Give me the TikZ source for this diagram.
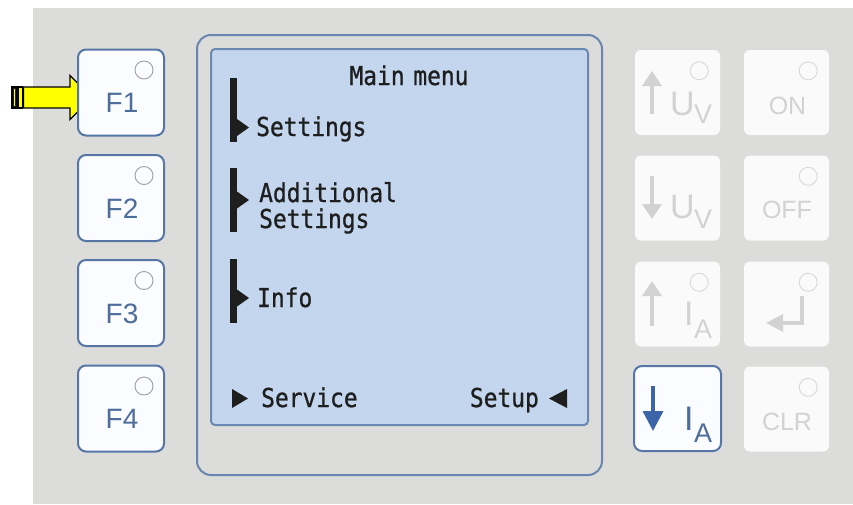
\documentclass[tikz,border=0pt]{standalone}
\usepackage{fontspec}
\setmainfont{Liberation Sans}
\newfontfamily\lcdfont[FakeStretch=0.88,FakeBold=0.9]{DejaVu Sans Mono}
\usetikzlibrary{arrows.meta,calc}

\definecolor{panel}{HTML}{DCDCDA}
\definecolor{dimfill}{HTML}{FAFAFA}
\definecolor{dimink}{HTML}{D2D2D2}
\definecolor{dimled}{HTML}{D8D8D8}
\definecolor{keyedge}{HTML}{5676A6}
\definecolor{keyfill}{HTML}{FBFCFF}
\definecolor{keyink}{HTML}{4D6D9B}
\definecolor{ledgray}{HTML}{A0A0A0}
\definecolor{lcdfill}{HTML}{C3D6EE}
\definecolor{lcdedge}{HTML}{6A88B2}
\definecolor{frameedge}{HTML}{6A86AE}
\definecolor{lcdink}{HTML}{1E1E1E}
\definecolor{activeblue}{HTML}{3B65A8}
\definecolor{pointer}{HTML}{FFFF00}

\begin{document}
\begin{tikzpicture}[x=1pt,y=-1pt,
  fkey/.style={draw=keyedge,line width=2pt,fill=keyfill,rounded corners=8pt,
    minimum width=86pt,minimum height=86pt,inner sep=0pt},
  dimkey/.style={fill=dimfill,rounded corners=6pt,
    minimum width=85pt,minimum height=85pt,inner sep=0pt},
  fnum/.style={text=keyink,font=\fontsize{28}{28}\selectfont,inner sep=0pt},
  dimword/.style={text=dimink,font=\fontsize{25}{25}\selectfont,inner sep=0pt},
  bigsym/.style={font=\fontsize{34}{34}\selectfont,inner sep=0pt,anchor=base west},
  subsym/.style={font=\fontsize{27}{27}\selectfont,inner sep=0pt,anchor=base west},
  ledring/.style={draw=ledgray,line width=0.9pt,fill=keyfill},
  dimring/.style={draw=dimled,line width=0.9pt},
  lcdtext/.style={text=lcdink,font=\lcdfont\fontsize{26}{26}\selectfont,inner sep=0pt,anchor=base west},
  lcdmark/.style={fill=lcdink},
  dimarrow/.style={draw=dimink,line width=3.4pt,-{Triangle[width=19pt,length=15pt]}},
]
\useasboundingbox (0,0) rectangle (853,504);

% front panel
\fill[panel] (33,8) rectangle (853,504);

% pointer at F1
\draw[fill=pointer,line width=1.4pt,line join=miter]
  (23.5,87) -- (70,87) -- (70,75.5) -- (92,97.5) -- (70,119.5) -- (70,108) -- (23.5,108) -- cycle;
\draw[fill=pointer,line width=1.4pt] (18,87) rectangle (22.5,108);
\draw[fill=lcdink,line width=1.4pt] (12,87) rectangle (16.5,108);
\draw[pointer,line width=0.8pt] (14.2,89) -- (14.2,106);

% function keys
\foreach \k/\y in {1/92.5,2/198,3/303,4/408.5}{
  \node[fkey] (f\k) at (121,\y) {};
  \node[fnum] (f\k t) at ($(f\k.center)+(1,10.5)$) {F\k};
  \draw[ledring] ($(f\k.north east)+(-21,21.5)$) circle[radius=9pt];
}

% display frame and LCD
\draw[frameedge,line width=2pt,rounded corners=14pt] (197,35) rectangle (602,475);
\draw[lcdedge,fill=lcdfill,line width=2pt,rounded corners=4pt] (211,49) rectangle (588,425);

\node[lcdtext,anchor=base] (title) at (409,85) {Main\hspace{-5pt} menu};

% menu entries with selection marks
\fill[lcdmark] (230,78) rectangle (237,142);
\fill[lcdmark] (237,119) -- (249,127.5) -- (237,136) -- cycle;
\node[lcdtext] (m1) at (256,136) {Settings};

\fill[lcdmark] (230,168) rectangle (237,232);
\fill[lcdmark] (237,191.5) -- (249,200) -- (237,208.5) -- cycle;
\node[lcdtext] (m2a) at (259,202) {Additional};
\node[lcdtext] (m2b) at (259,228) {Settings};

\fill[lcdmark] (230,259) rectangle (237,323);
\fill[lcdmark] (237,289.5) -- (249,298) -- (237,306.5) -- cycle;
\node[lcdtext] (m3) at (257,307) {Info};

\fill[lcdmark] (232,389) -- (248,398.5) -- (232,408) -- cycle;
\node[lcdtext] (svc) at (261,407) {Service};
\node[lcdtext,anchor=base east] (setup) at (539,407) {Setup};
\fill[lcdmark] (567,389) -- (549,398.5) -- (567,408) -- cycle;

% right key block
\node[dimkey] (uvup) at (677.5,92.5) {};
\node[dimkey] (on)   at (786.5,92.5) {};
\node[dimkey] (uvdn) at (677.5,198) {};
\node[dimkey] (off)  at (786.5,198) {};
\node[dimkey] (iaup) at (677.5,304) {};
\node[dimkey] (ent)  at (786.5,304) {};
\node[fkey,minimum width=87pt,minimum height=85pt] (iadn) at (677.5,408.5) {};
\node[dimkey] (clr)  at (786.5,409) {};

\foreach \k in {uvup,on,off,iaup,ent,clr}
  \draw[dimring] ($(\k.north east)+(-21,21)$) circle[radius=9pt];

% key legends
\draw[dimarrow] (652,114) -- (652,71);
\node[bigsym,text=dimink] (uu) at (670,115) {U};
\node[subsym,text=dimink] (uv) at (694,123) {V};

\draw[dimarrow] (652,176) -- (652,219);
\node[bigsym,text=dimink] (du) at (670,218) {U};
\node[subsym,text=dimink] (dv) at (694,228) {V};

\draw[dimarrow] (652,326) -- (652,281);
\node[bigsym,text=dimink] (ui) at (684,325) {I};
\node[subsym,text=dimink] (ua) at (694,338) {A};

\draw[activeblue,line width=3.4pt,-{Triangle[width=20pt,length=20pt]}] (653,386) -- (653,431);
\node[bigsym,text=keyink] (di) at (684,430) {I};
\node[subsym,text=keyink] (da) at (694,442) {A};

\node[dimword] (ont)  at (787.5,106) {ON};
\node[dimword] (offt) at (787,210) {OFF};
\node[dimword] (clrt) at (787,422) {CLR};

\draw[draw=dimink,line width=3.4pt,-{Triangle[width=17pt,length=17pt]}]
  (802,296) -- (802,323) -- (766,323);
\end{tikzpicture}
\end{document}
